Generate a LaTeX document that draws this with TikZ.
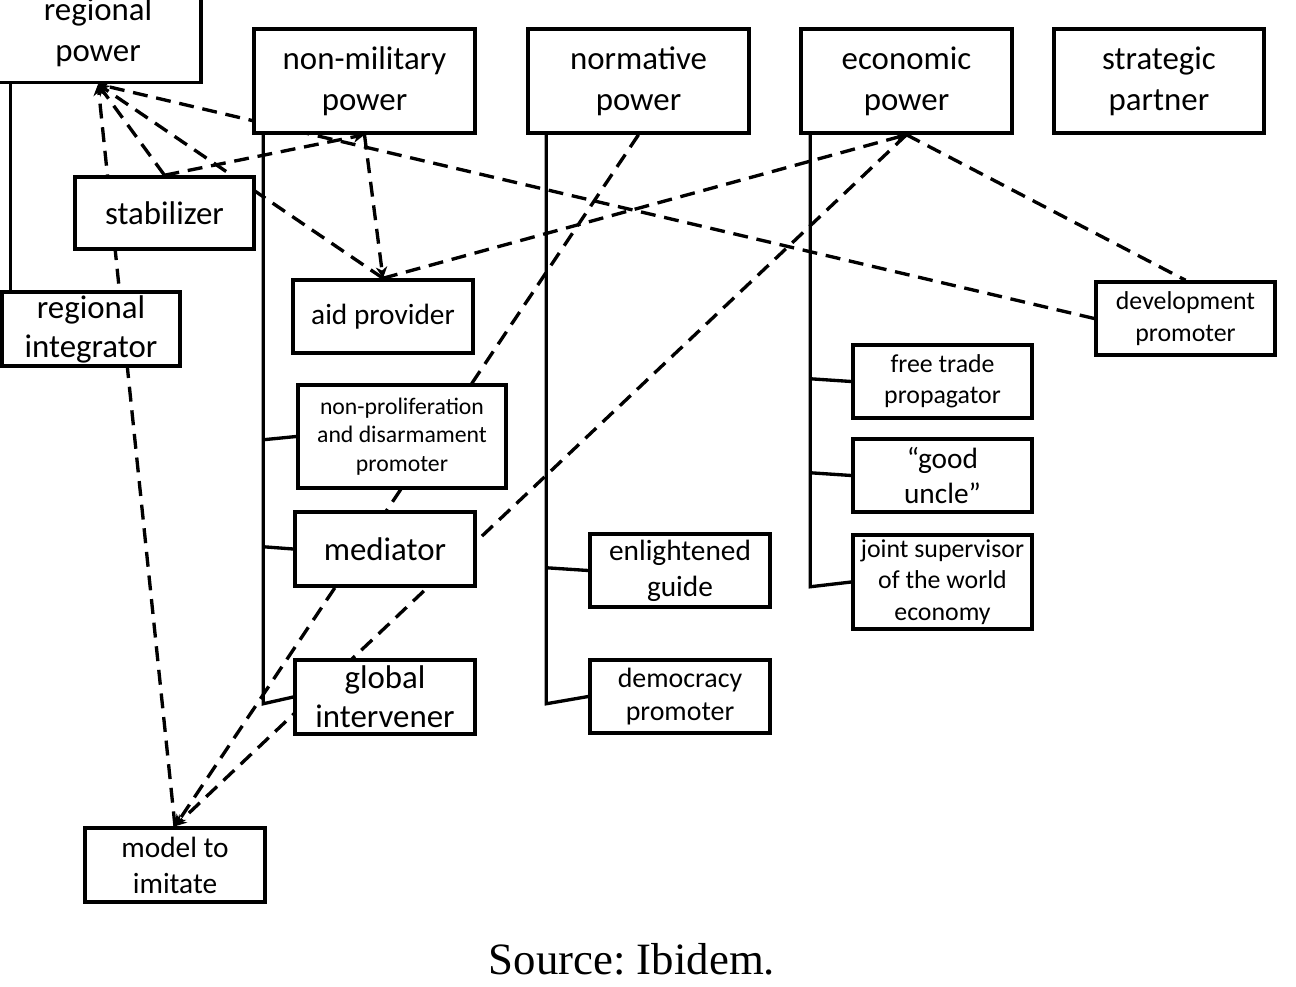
\documentclass[tikz,border=0pt]{standalone}
\usepackage{fontspec}
\setmainfont{Carlito}
\newfontfamily\capfont{Liberation Serif}
\usetikzlibrary{calc,arrows.meta,backgrounds}
\frenchspacing
\tikzset{
  box/.style={draw, line width=2pt, fill=white, inner sep=0pt, align=center, text=black},
  sz/.style 2 args={minimum width=#1*0.02cm, minimum height=#2*0.02cm},
  fbig/.style={font=\fontsize{18.7}{23.2}\selectfont},
  fbigb/.style={font=\fontsize{18.7}{22.1}\selectfont},
  fmid/.style={font=\fontsize{16.7}{20.4}\selectfont},
  fdem/.style={font=\fontsize{15.9}{18.7}\selectfont},
  fsmall/.style={font=\fontsize{14.7}{17.9}\selectfont},
  ftiny/.style={font=\fontsize{13.5}{16.4}\selectfont},
  tree/.style={line width=1.9pt},
  link/.style={line width=1.9pt, dash pattern=on 8.5pt off 5pt},
  arr/.style={link, -{Stealth[length=6.5pt,width=6.5pt]}},
}
\begin{document}
\begin{tikzpicture}[x=0.02cm,y=-0.02cm]
\useasboundingbox (0,0) rectangle (1296,987);

% boxes
\node[box,fbig,sz={206}{101}] (RP) at (98,32) {regional\\power};
\node[box,fbig,sz={221}{104}] (NM) at (364.5,81) {non-military\\power};
\node[box,fbig,sz={221}{104}] (NO) at (638.5,81) {normative\\power};
\node[box,fbig,sz={211}{104}] (EC) at (906.5,81) {economic\\power};
\node[box,fbig,sz={210}{104}] (SP) at (1159,81) {strategic\\partner};
\node[box,fbig,sz={179}{72}] (ST) at (164.5,213) {stabilizer};
\node[box,fbigb,sz={178}{74}] (RI) at (91,329) {regional\\integrator};
\node[box,fmid,sz={180}{73}] (AP) at (383,316.5) {aid provider};
\node[box,fsmall,sz={179}{73}] (DP) at (1185.5,318.5) {development\\promoter};
\node[box,fsmall,sz={179}{73}] (FT) at (942.5,381.5) {free trade\\propagator};
\node[box,ftiny,sz={208}{103}] (NP) at (402,436.5) {non-proliferation\\and disarmament\\promoter};
\node[box,fmid,sz={179}{73}] (GU) at (942.5,475.5) {“good\\uncle”};
\node[box,fbig,sz={180}{74}] (ME) at (385,549) {mediator};
\node[box,fmid,sz={180}{73}] (EG) at (680,570.5) {enlightened\\guide};
\node[box,fsmall,sz={179}{94}] (JS) at (942.5,582) {joint supervisor\\of the world\\economy};
\node[box,fbigb,sz={180}{74}] (GI) at (385,697) {global\\intervener};
\node[box,fdem,sz={180}{73}] (DM) at (680,696.5) {democracy\\promoter};
\node[box,fmid,sz={180}{74}] (MI) at (175,865) {model to\\imitate};

\node[font=\capfont\fontsize{25.5}{30}\selectfont] (cap) at (632,959) {Source: Ibidem.};

\begin{pgfonlayer}{background}
% tree lines
\draw[tree] ($(RP.south west)+(17,0)$) -- ($(RI.north west)+(10,0)$);
\coordinate (nmT) at ($(NM.south west)+(11,0)$);
\draw[tree] (nmT) -- ++(0,569) -- (GI.west);
\draw[tree] (nmT) ++(0,305) -- (NP.west);
\draw[tree] (nmT) ++(0,412) -- (ME.west);
\coordinate (noT) at ($(NO.south west)+(20,0)$);
\draw[tree] (noT) -- ++(0,569) -- (DM.west);
\draw[tree] (noT) ++(0,433) -- (EG.west);
\coordinate (ecT) at ($(EC.south west)+(11,0)$);
\draw[tree] (ecT) -- ++(0,452) -- (JS.west);
\draw[tree] (ecT) ++(0,244) -- (FT.west);
\draw[tree] (ecT) ++(0,338) -- (GU.west);

% dashed links
\draw[arr] (MI.north) -- (RP.south);
\draw[arr] (ST.north) -- (RP.south);
\draw[arr] (AP.north) -- (RP.south);
\draw[arr] (DP.west) -- (RP.south);
\draw[arr] (ST.north) -- (NM.south);
\draw[arr] (NM.south) -- (AP.north);
\draw[arr] (AP.north) -- (EC.south);
\draw[arr] (NO.south) -- (MI.north);
\draw[arr] (EC.south) -- (MI.north);
\draw[link] (EC.south) -- (DP.north);
\end{pgfonlayer}
\end{tikzpicture}
\end{document}
